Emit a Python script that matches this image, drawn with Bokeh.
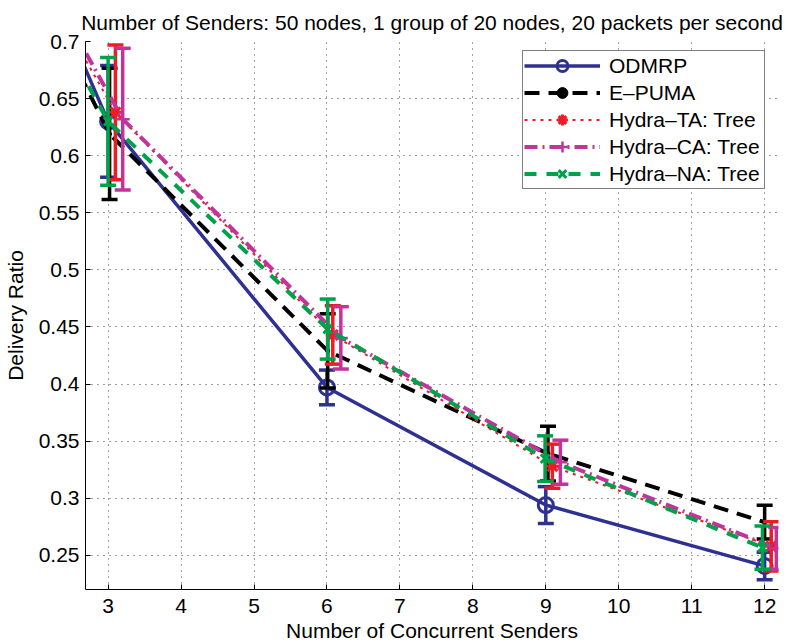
from bokeh.plotting import figure
from bokeh.models import Range1d, FixedTicker, Legend, LegendItem, ColumnDataSource
from bokeh.embed import file_html
from bokeh.resources import INLINE

FONT = "Liberation Sans"

title_text = "Number of Senders: 50 nodes, 1 group of 20 nodes, 20 packets per second"
x_label = "Number of Concurrent Senders"
y_label = "Delivery Ratio"

x_ticks = [3, 4, 5, 6, 7, 8, 9, 10, 11, 12]
y_ticks = [0.25, 0.3, 0.35, 0.4, 0.45, 0.5, 0.55, 0.6, 0.65, 0.7]
y_tick_labels = ["0.25", "0.3", "0.35", "0.4", "0.45", "0.5", "0.55", "0.6", "0.65", "0.7"]

# series (first point lies left of the visible range)
odmrp_x = [2.0, 3.0, 6.0, 9.0, 12.0]
odmrp_y = [0.778, 0.630, 0.397, 0.294, 0.2406]
odmrp_err = [0.05, 0.049, 0.0152, 0.0161, 0.012]

epuma_x = [2.02, 3.02, 6.01, 9.03, 12.0]
epuma_y = [0.747, 0.619, 0.429, 0.339, 0.279]
epuma_err = [0.05, 0.0575, 0.0325, 0.024, 0.0148]

ta_x = [2.1, 3.1, 6.08, 9.09, 12.09]
ta_y = [0.750, 0.638, 0.443, 0.328, 0.2578]
ta_err = [0.05, 0.059, 0.0256, 0.0193, 0.0215]

ca_x = [2.2, 3.2, 6.19, 9.2, 12.16]
ca_y = [0.747, 0.632, 0.4404, 0.3315, 0.256]
ca_err = [0.05, 0.062, 0.0273, 0.0193, 0.0183]

na_x = [2.0, 3.0, 6.01, 8.99, 11.97]
na_y = [0.745, 0.630, 0.4481, 0.3346, 0.2567]
na_err = [0.05, 0.056, 0.0263, 0.020, 0.019]

p = figure(width=791, height=644, output_backend="svg", toolbar_location=None,
           x_range=Range1d(2.69, 12.19), y_range=Range1d(0.22, 0.7),
           min_border_left=83, min_border_right=13, min_border_top=41, min_border_bottom=55,
           title=title_text)
p.outline_line_color = None
p.background_fill_color = "white"
p.border_fill_color = "white"

p.title.text_font = FONT
p.title.text_font_size = "21px"
p.title.text_font_style = "normal"
p.title.align = "center"
p.title.text_color = "black"
p.title.standoff = 16
p.title.offset = -3

for ax in (p.xaxis[0], p.yaxis[0]):
    ax.axis_line_color = "black"
    ax.axis_line_width = 1
    ax.major_tick_line_color = "black"
    ax.major_tick_in = 5
    ax.major_tick_out = 0
    ax.minor_tick_line_color = None
    ax.major_label_text_font = FONT
    ax.major_label_text_font_size = "21px"
    ax.major_label_text_color = "black"
    ax.axis_label_text_font = FONT
    ax.axis_label_text_font_size = "21px"
    ax.axis_label_text_font_style = "normal"
    ax.axis_label_text_color = "black"

p.xaxis.ticker = FixedTicker(ticks=x_ticks)
p.yaxis.ticker = FixedTicker(ticks=y_ticks)
p.yaxis.major_label_overrides = {t: s for t, s in zip(y_ticks, y_tick_labels)}
p.xaxis.axis_label = x_label
p.yaxis.axis_label = y_label
p.xaxis.major_label_standoff = 9
p.xaxis.axis_label_standoff = 3
p.xaxis.major_label_text_line_height = 1.0
p.xaxis.axis_label_text_line_height = 1.0
p.yaxis.major_label_standoff = 6
p.yaxis.axis_label_standoff = 9

p.xgrid.ticker = FixedTicker(ticks=x_ticks)
p.ygrid.ticker = FixedTicker(ticks=y_ticks)
p.grid.grid_line_color = "#444444"
p.grid.grid_line_dash = "1 5"
p.grid.grid_line_width = 1


def draw(xs, ys, errs, color, width, dash, marker, msize, mfill, mwidth):
    lo = [y - e for y, e in zip(ys, errs)]
    hi = [y + e for y, e in zip(ys, errs)]
    src = ColumnDataSource(dict(x=xs, y=ys, lo=lo, hi=hi))
    p.segment(x0="x", y0="lo", x1="x", y1="hi", source=src, line_color=color, line_width=3.5)
    p.scatter(x="x", y="hi", marker="dash", size=16, line_color=color, line_width=3.5, source=src)
    p.scatter(x="x", y="lo", marker="dash", size=16, line_color=color, line_width=3.5, source=src)
    ln = p.line(x="x", y="y", source=src, line_color=color, line_width=width, line_dash=dash)
    mk = p.scatter(x="x", y="y", source=src, marker=marker, size=msize, line_color=color,
                   fill_color=mfill, line_width=mwidth)
    return [ln, mk]


r_odmrp = draw(odmrp_x, odmrp_y, odmrp_err, "#2e3192", 3.5, "solid", "circle", 15, None, 3)
r_epuma = draw(epuma_x, epuma_y, epuma_err, "black", 4, "15 9", "circle", 4, "black", 1)
r_ta = draw(ta_x, ta_y, ta_err, "#ed1c24", 2, "3 5", "asterisk", 14, None, 3)
r_ca = draw(ca_x, ca_y, ca_err, "#c2349b", 4, "13 5 2 5", "cross", 14, None, 2.5)
r_na = draw(na_x, na_y, na_err, "#00a14b", 4, "12 10", "x", 12, None, 3)

legend = Legend(items=[
    LegendItem(label="ODMRP", renderers=r_odmrp),
    LegendItem(label="E\u2013PUMA", renderers=r_epuma),
    LegendItem(label="Hydra\u2013TA: Tree", renderers=r_ta),
    LegendItem(label="Hydra\u2013CA: Tree", renderers=r_ca),
    LegendItem(label="Hydra\u2013NA: Tree", renderers=r_na),
], location=(437, 400))
legend.label_text_font = FONT
legend.label_text_font_size = "21px"
legend.label_text_color = "black"
legend.label_height = 27
legend.glyph_height = 27
legend.glyph_width = 76
legend.label_standoff = 9
legend.label_width = 154
legend.spacing = 0
legend.padding = 1
legend.margin = 0
legend.border_line_color = "black"
legend.border_line_width = 1.5
legend.background_fill_color = "white"
legend.background_fill_alpha = 1
p.add_layout(legend, "center")

open("out.html", "w").write(file_html(p, INLINE))
